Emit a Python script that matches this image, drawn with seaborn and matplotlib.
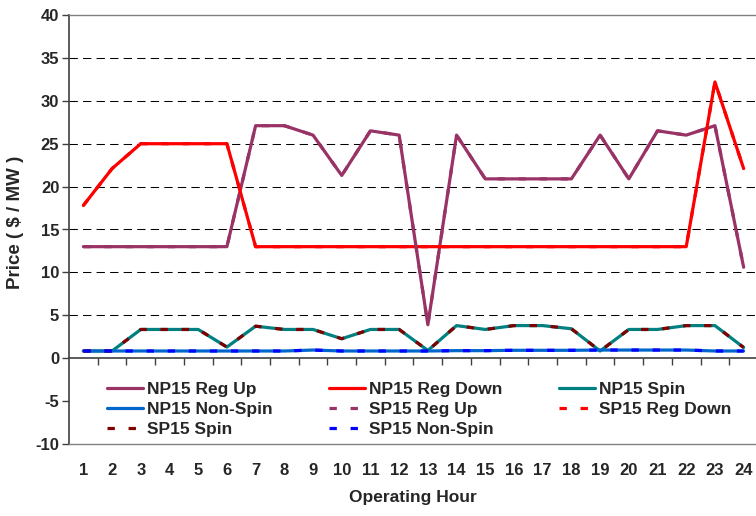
import matplotlib
matplotlib.use("Agg")
import matplotlib.pyplot as plt
import pandas as pd
import seaborn as sns

hours = list(range(1, 25))

np15_reg_up = [13, 13, 13, 13, 13, 13, 27.1, 27.1, 26, 21.3, 26.5, 26,
               3.9, 26, 20.9, 20.9, 20.9, 20.9, 26, 20.9, 26.5, 26, 27.1, 10.6]
np15_reg_down = [17.8, 22.1, 25, 25, 25, 25, 13, 13, 13, 13, 13, 13,
                 13, 13, 13, 13, 13, 13, 13, 13, 13, 13, 32.2, 22.1]
np15_spin = [0.84, 0.84, 3.35, 3.35, 3.35, 1.3, 3.73, 3.35, 3.35, 2.27, 3.35, 3.35,
             0.9, 3.8, 3.35, 3.8, 3.8, 3.43, 0.84, 3.35, 3.35, 3.8, 3.8, 1.25]
np15_non_spin = [0.84, 0.84, 0.84, 0.84, 0.84, 0.84, 0.84, 0.84, 0.95, 0.84, 0.84, 0.84,
                 0.84, 0.88, 0.88, 0.92, 0.92, 0.92, 0.95, 0.95, 0.95, 0.95, 0.84, 0.84]
sp15_reg_up = [13, 13, 13, 13, 13, 13, 27.1, 27.1, 26, 21.3, 26.5, 26,
               3.9, 26, 20.9, 20.9, 20.9, 20.9, 26, 20.9, 26.5, 26, 27.1, 10.6]
sp15_reg_down = [17.8, 22.1, 25, 25, 25, 25, 13, 13, 13, 13, 13, 13,
                 13, 13, 13, 13, 13, 13, 13, 13, 13, 13, 32.2, 22.1]
sp15_spin = [0.84, 0.84, 3.35, 3.35, 3.35, 1.3, 3.73, 3.35, 3.35, 2.27, 3.35, 3.35,
             0.9, 3.8, 3.35, 3.8, 3.8, 3.43, 0.84, 3.35, 3.35, 3.8, 3.8, 1.25]
sp15_non_spin = [0.84, 0.84, 0.84, 0.84, 0.84, 0.84, 0.84, 0.84, 0.95, 0.84, 0.84, 0.84,
                 0.84, 0.88, 0.88, 0.92, 0.92, 0.92, 0.95, 0.95, 0.95, 0.95, 0.84, 0.84]

series = [
    ("NP15 Reg Up", np15_reg_up, "#993366", "-"),
    ("NP15 Reg Down", np15_reg_down, "#FF0000", "-"),
    ("NP15 Spin", np15_spin, "#008080", "-"),
    ("NP15 Non-Spin", np15_non_spin, "#0066CC", "-"),
    ("SP15 Reg Up", sp15_reg_up, "#993366", (0, (2.3, 4.3))),
    ("SP15 Reg Down", sp15_reg_down, "#FF0000", (0, (2.3, 4.3))),
    ("SP15 Spin", sp15_spin, "#800000", (0, (2.3, 4.3))),
    ("SP15 Non-Spin", sp15_non_spin, "#0000FF", (0, (2.3, 4.3))),
]

sns.set_style("white")
plt.rcParams["font.family"] = ["Liberation Sans", "DejaVu Sans"]
plt.rcParams["font.weight"] = "bold"
plt.rcParams["axes.unicode_minus"] = False

fig = plt.figure(figsize=(7.56, 5.16), dpi=100)
ax = fig.add_axes([69 / 756, 72 / 516, 689 / 756, 429 / 516])

for name, vals, color, ls in series:
    df = pd.DataFrame({"hour": hours, "price": vals})
    sns.lineplot(ax=ax, data=df, x="hour", y="price", color=color,
                 linestyle=ls, linewidth=2.3, label=name)

# dashed grid lines above zero
ax.hlines(range(5, 40, 5), 0.5, 24.5, colors="black", linewidth=0.75,
          linestyles=[(0, (8, 5))], zorder=0)

ax.set_xlim(0.5, 24.5)
ax.set_ylim(-10, 40)
ax.set_yticks(range(-10, 41, 5))
ax.set_xticks(hours)
ax.set_xticklabels([str(h) for h in hours])
ax.tick_params(axis="x", length=0, pad=14, labelsize=12)
ax.tick_params(axis="y", direction="out", length=5, width=1, color="#404040",
               labelsize=12, pad=2, left=True)

for side in ["top", "bottom"]:
    ax.spines[side].set_color("#808080")
    ax.spines[side].set_linewidth(1)
ax.spines["left"].set_color("#404040")
ax.spines["left"].set_linewidth(1.2)
ax.spines["right"].set_visible(False)

# zero line with category-boundary ticks
zero_ax = ax.secondary_xaxis(0.2)
zero_ax.set_xticks([h + 0.5 for h in hours[:-1]])
zero_ax.tick_params(axis="x", direction="out", length=5, width=1, color="#404040",
                    labelbottom=False)
zero_ax.spines["bottom"].set_color("#404040")
zero_ax.spines["bottom"].set_linewidth(1.2)

ax.set_xlabel("")
ax.set_ylabel("")
fig.text(16 / 756, 1 - 222 / 516, "Price ( $ / MW )", rotation=90,
         ha="center", va="center", fontsize=13.5, fontweight="bold")
fig.text(413 / 756, 1 - 502 / 516, "Operating Hour",
         ha="center", va="baseline", fontsize=12.5, fontweight="bold")

handles, labels = ax.get_legend_handles_labels()
order = [0, 3, 6, 1, 4, 7, 2, 5]
leg = ax.legend([handles[i] for i in order], [labels[i] for i in order],
                ncol=3, loc="center left", bbox_to_anchor=((107 - 69) / 689, 0.081),
                frameon=False, fontsize=12.5, handlelength=2.07,
                handletextpad=0.23, columnspacing=3.25, labelspacing=0.27,
                borderaxespad=0, borderpad=0)

fig.savefig("out.png", dpi=100)
